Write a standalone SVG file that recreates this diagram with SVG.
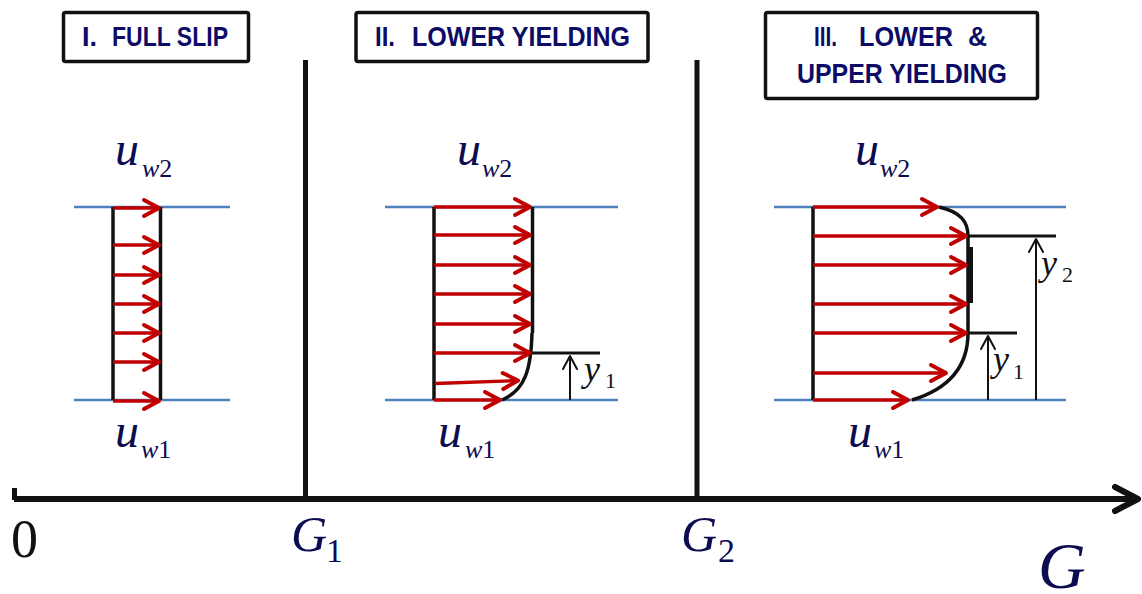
<svg xmlns="http://www.w3.org/2000/svg" width="1142" height="594" viewBox="0 0 1142 594">
<style>
.box{fill:#fff;stroke:#111;stroke-width:3.5}
.bt{font-family:"Liberation Sans",Arial,sans-serif;font-weight:bold;font-size:28px;fill:#0c0c66}
.m{font-family:"Liberation Serif",serif;fill:#0c0c50}
.it{font-style:italic}
.blue{stroke:#4f81bd;stroke-width:2.5;fill:none}
.wall{stroke:#111;stroke-width:3.5;fill:none}
.red{stroke:#c00000;stroke-width:3.3;fill:none}
.blk{stroke:#111;stroke-width:3;fill:none}
.dim{stroke:#111;stroke-width:2;fill:none}
.div{stroke:#111;stroke-width:5;fill:none}
</style>
<defs>
<marker id="ra" markerUnits="userSpaceOnUse" markerWidth="24" markerHeight="24" refX="18" refY="12" orient="auto" overflow="visible">
<path d="M3 4 L18 12 L3 20" fill="none" stroke="#c00000" stroke-width="4" stroke-linejoin="round" stroke-linecap="round"/>
</marker>
<marker id="ba" markerUnits="userSpaceOnUse" markerWidth="20" markerHeight="20" refX="14" refY="10" orient="auto" overflow="visible">
<path d="M1 3 L14 10 L1 17" fill="none" stroke="#111" stroke-width="2" stroke-linejoin="round" stroke-linecap="round"/>
</marker>
<marker id="aa" markerUnits="userSpaceOnUse" markerWidth="30" markerHeight="30" refX="26" refY="15" orient="auto" overflow="visible">
<path d="M3 3 L26 15 L3 27" fill="none" stroke="#111" stroke-width="6" stroke-linejoin="round" stroke-linecap="round"/>
</marker>
</defs>

<g id="title1">
<rect class="box" x="63.5" y="12.5" width="185" height="49" rx="2"/>
<text class="bt" x="82" y="46" textLength="15" lengthAdjust="spacingAndGlyphs">I.</text>
<text class="bt" x="112" y="46" textLength="116" lengthAdjust="spacingAndGlyphs">FULL SLIP</text>
</g>
<g id="title2">
<rect class="box" x="356" y="12.5" width="292" height="49" rx="2"/>
<text class="bt" x="375" y="46" textLength="20" lengthAdjust="spacingAndGlyphs">II.</text>
<text class="bt" x="412" y="46" textLength="218" lengthAdjust="spacingAndGlyphs">LOWER YIELDING</text>
</g>
<g id="title3">
<rect class="box" x="765.5" y="12.5" width="272" height="86" rx="2"/>
<text class="bt" x="814" y="46" textLength="23" lengthAdjust="spacingAndGlyphs">III.</text>
<text class="bt" x="859" y="46" textLength="94" lengthAdjust="spacingAndGlyphs">LOWER</text>
<text class="bt" x="968" y="46" textLength="19" lengthAdjust="spacingAndGlyphs">&amp;</text>
<text class="bt" x="797" y="83" textLength="210" lengthAdjust="spacingAndGlyphs">UPPER YIELDING</text>
</g>

<g id="axis">
<line class="div" x1="305.5" y1="60" x2="305.5" y2="499"/>
<line class="div" x1="697" y1="60" x2="697" y2="499"/>
<line x1="14" y1="499" x2="1138" y2="499" stroke="#111" stroke-width="6" marker-end="url(#aa)"/>
<line x1="14.5" y1="488" x2="14.5" y2="500" stroke="#111" stroke-width="5"/>
<text class="m" x="11" y="557" font-size="54" style="fill:#111">0</text>
<text class="m" x="291" y="551" font-size="50"><tspan class="it">G</tspan><tspan x="326" y="562" font-size="34">1</tspan></text>
<text class="m" x="681" y="551" font-size="50"><tspan class="it">G</tspan><tspan x="718" y="562" font-size="34">2</tspan></text>
<text class="m it" x="1038" y="588" font-size="66">G</text>
</g>

<g id="panel1">
<line class="blue" x1="74" y1="207" x2="230" y2="207"/>
<line class="blue" x1="74" y1="400" x2="230" y2="400"/>
<line class="wall" x1="113" y1="207" x2="113" y2="400"/>
<line class="wall" x1="160.5" y1="207" x2="160.5" y2="400"/>
<g class="red" marker-end="url(#ra)">
<line x1="113" y1="208" x2="159" y2="208"/>
<line x1="113" y1="245" x2="159" y2="245"/>
<line x1="113" y1="275" x2="159" y2="275"/>
<line x1="113" y1="304" x2="159" y2="304"/>
<line x1="113" y1="333" x2="159" y2="333"/>
<line x1="113" y1="362" x2="159" y2="362"/>
<line x1="113" y1="401" x2="159" y2="401"/>
</g>
<text class="m it" x="115" y="165" font-size="48">u</text>
<text class="m" x="142" y="177" font-size="26"><tspan class="it">w</tspan>2</text>
<text class="m it" x="115" y="447" font-size="48">u</text>
<text class="m" x="141" y="458" font-size="26"><tspan class="it">w</tspan>1</text>
</g>

<g id="panel2">
<line class="blue" x1="385" y1="207" x2="618" y2="207"/>
<line class="blue" x1="385" y1="400" x2="618" y2="400"/>
<line class="wall" x1="434" y1="207" x2="434" y2="400"/>
<line class="wall" x1="532.5" y1="207" x2="532.5" y2="333"/>
<path class="wall" d="M532 333 C531 370 525 390 502 400"/>
<line class="blk" x1="531" y1="353" x2="600" y2="353"/>
<line class="dim" x1="570" y1="400" x2="570" y2="356" marker-end="url(#ba)"/>
<g class="red" marker-end="url(#ra)">
<line x1="434" y1="207" x2="530" y2="207"/>
<line x1="434" y1="235" x2="530" y2="235"/>
<line x1="434" y1="265" x2="530" y2="265"/>
<line x1="434" y1="294" x2="530" y2="294"/>
<line x1="434" y1="324" x2="530" y2="324"/>
<line x1="434" y1="353" x2="530" y2="353"/>
<line x1="435" y1="383.5" x2="518" y2="380.5"/>
<line x1="434" y1="400" x2="500" y2="400"/>
</g>
<text class="m it" x="457" y="165" font-size="48">u</text>
<text class="m" x="482" y="177" font-size="26"><tspan class="it">w</tspan>2</text>
<text class="m it" x="438" y="447" font-size="48">u</text>
<text class="m" x="465" y="458" font-size="26"><tspan class="it">w</tspan>1</text>
<text class="m it" x="584" y="381" font-size="36" style="fill:#111">y</text>
<text class="m" x="605" y="388" font-size="22" style="fill:#111">1</text>
</g>

<g id="panel3">
<line class="blue" x1="774" y1="207" x2="1066" y2="207"/>
<line class="blue" x1="774" y1="400" x2="1066" y2="400"/>
<line class="wall" x1="813" y1="207" x2="813" y2="400"/>
<path class="wall" d="M939 207 C961 212 968 222 968 236 L968 333 C968 370 945 390 912 400"/>
<line x1="970.5" y1="247" x2="970.5" y2="303" stroke="#111" stroke-width="5"/>
<line class="blk" x1="967" y1="236" x2="1056" y2="236"/>
<line class="blk" x1="967" y1="333" x2="1017" y2="333"/>
<line class="dim" x1="988" y1="400" x2="988" y2="336" marker-end="url(#ba)"/>
<line class="dim" x1="1036" y1="400" x2="1036" y2="239" marker-end="url(#ba)"/>
<g class="red" marker-end="url(#ra)">
<line x1="813" y1="207" x2="937" y2="207"/>
<line x1="813" y1="236" x2="966" y2="236"/>
<line x1="813" y1="265" x2="966" y2="265"/>
<line x1="813" y1="304" x2="966" y2="304"/>
<line x1="813" y1="333" x2="966" y2="333"/>
<line x1="813" y1="373" x2="946" y2="373"/>
<line x1="813" y1="400" x2="908" y2="400"/>
</g>
<text class="m it" x="855" y="165" font-size="48">u</text>
<text class="m" x="880" y="177" font-size="26"><tspan class="it">w</tspan>2</text>
<text class="m it" x="848" y="447" font-size="48">u</text>
<text class="m" x="874" y="458" font-size="26"><tspan class="it">w</tspan>1</text>
<text class="m it" x="993" y="371" font-size="36" style="fill:#111">y</text>
<text class="m" x="1013" y="379" font-size="22" style="fill:#111">1</text>
<text class="m it" x="1041" y="275" font-size="36" style="fill:#111">y</text>
<text class="m" x="1062" y="282" font-size="22" style="fill:#111">2</text>
</g>
</svg>
